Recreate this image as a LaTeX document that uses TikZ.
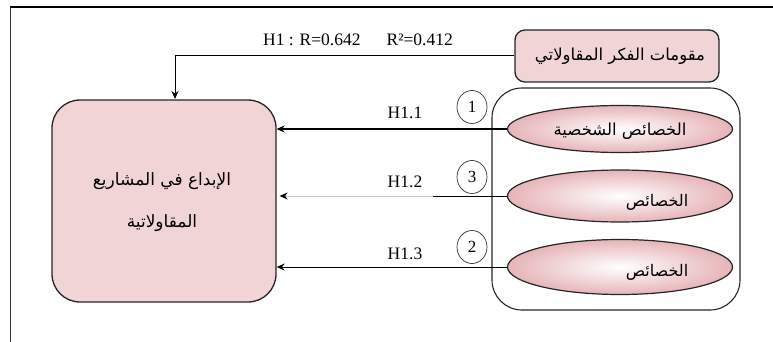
\documentclass[tikz,border=0pt]{standalone}
\usepackage{fontspec}
\setmainfont{Liberation Serif}
\newfontfamily\arabicfont[Script=Arabic]{DejaVu Sans}
\TeXXeTstate=1
\usetikzlibrary{shapes.geometric,arrows.meta}
\definecolor{boxpink}{RGB}{241,212,214}
\definecolor{ellpink}{RGB}{230,180,184}
\definecolor{lightline}{RGB}{200,200,200}
\tikzset{
  pinkbox/.style={draw=black!85, line width=1.3pt, fill=boxpink, rounded corners=#1, inner sep=0pt},
  ellnode/.style={draw=black!85, line width=1.2pt, ellipse, minimum width=225pt, minimum height=#1, inner sep=0pt, inner color=white, outer color=ellpink},
  numcirc/.style={draw=black!80, line width=0.7pt, ellipse, minimum width=30pt, minimum height=33pt, inner sep=0pt, font=\fontsize{17}{17}\selectfont},
  hlabel/.style={font=\fontsize{17.5}{17.5}\selectfont, inner sep=0pt},
  artext/.style={font=\arabicfont\fontsize{#1}{#1}\selectfont, inner sep=0pt},
  conn/.style={line width=1pt, -{Stealth[length=8pt,width=7pt]}},
}
\begin{document}
\begin{tikzpicture}[x=1pt,y=-1pt]
\useasboundingbox (0,0) rectangle (773,342);
% frame
\draw[line width=2pt] (9.5,7) -- (773,7);
\draw[line width=0.9pt, black!80] (10,7) -- (10,342);
% nodes
\node[pinkbox=28pt, minimum width=224pt, minimum height=202pt] (dep) at (164,201) {};
\node[artext=17, align=center] (deptext) at (162,202) {\beginR الإبداع في المشاريع\endR\\[24pt]\beginR المقاولاتية\endR};
\node[pinkbox=10pt, minimum width=204pt, minimum height=52pt] (indep) at (617,56) {};
\node[artext=16.5] (indeptext) at (620,56) {\beginR مقومات الفكر المقاولاتي\endR};
\node[draw=black!85, line width=1.1pt, rounded corners=30pt, minimum width=248pt, minimum height=222pt, inner sep=0pt] (cont) at (616,199) {};
\node[ellnode=47pt] (e1) at (620,129) {};
\node[ellnode=52pt] (e2) at (620,196) {};
\node[ellnode=55pt] (e3) at (620,267) {};
\node[artext=16.5] (t1) at (620,131) {\beginR الخصائص الشخصية\endR};
\node[artext=16] (t2) at (657,202) {\beginR الخصائص\endR};
\node[artext=16] (t3) at (657,272) {\beginR الخصائص\endR};
\node[numcirc] (c1) at (472,107) {1};
\node[numcirc] (c3) at (472,177) {3};
\node[numcirc] (c2) at (472,247) {2};
\node[hlabel] (l1) at (405,113) {H1.1};
\node[hlabel] (l2) at (405,182) {H1.2};
\node[hlabel] (l3) at (405,254) {H1.3};
\node[hlabel] (rlabel) at (358,40) {H1 : R=0.642\hspace{26pt}R²=0.412};
% connectors
\coordinate (topend) at (175,99);
\draw[conn] (indep.west) -| (topend);
\draw[conn] (e1.west) -- (e1.west -| dep.east);
\draw[line width=0.8pt, lightline, -{Stealth[length=8pt,width=7pt,color=black,fill=black]}] (e2.west) -- ([xshift=3pt]e2.west -| dep.east);
\coordinate (blackstart) at (433,196);
\draw[line width=1pt] (e2.west) -- (blackstart);
\draw[conn] (e3.west) -- (e3.west -| dep.east);
\end{tikzpicture}
\end{document}
